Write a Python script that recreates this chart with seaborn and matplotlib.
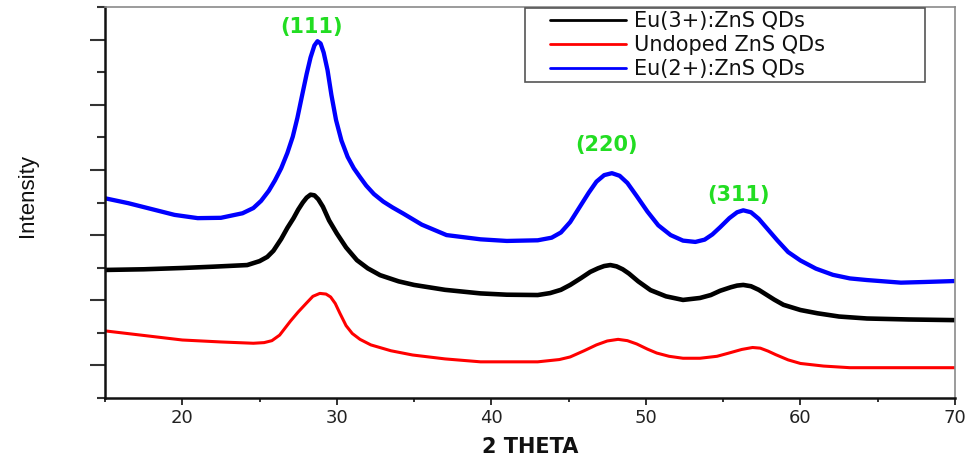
import numpy as np
import pandas as pd
import matplotlib
matplotlib.use("Agg")
import matplotlib.pyplot as plt
from matplotlib.lines import Line2D
from matplotlib.legend_handler import HandlerLine2D
from matplotlib.ticker import FixedLocator
import seaborn as sns

# ---------------- data ----------------
series_names = ["Eu(3+):ZnS QDs", "Undoped ZnS QDs", "Eu(2+):ZnS QDs"]
series_colors = ["#000000", "#ff0000", "#0000ff"]

eu3_x = [15.0, 17.5, 20.0, 22.0, 24.2, 25.0, 25.5, 25.9, 26.4, 26.8, 27.2, 27.5, 27.8,
         28.05, 28.3, 28.55, 28.8, 29.1, 29.5, 30.0, 30.6, 31.3, 32.0, 32.8, 34.0, 35.0,
         37.0, 39.3, 41.0, 43.0, 43.8, 44.5, 45.1, 45.8, 46.4, 46.9, 47.3, 47.7, 48.1,
         48.5, 48.9, 49.5, 50.3, 51.3, 52.4, 53.5, 54.2, 54.8, 55.5, 55.9, 56.3, 56.8,
         57.3, 57.8, 58.3, 58.9, 60.0, 61.1, 62.5, 64.3, 67.0, 70.0]
eu3_y = [3.93, 3.95, 3.99, 4.03, 4.08, 4.20, 4.33, 4.52, 4.88, 5.22, 5.52, 5.78, 6.00,
         6.15, 6.24, 6.22, 6.10, 5.87, 5.45, 5.05, 4.62, 4.23, 3.98, 3.77, 3.58, 3.47,
         3.32, 3.21, 3.17, 3.16, 3.22, 3.32, 3.47, 3.68, 3.87, 3.98, 4.05, 4.08, 4.04,
         3.95, 3.82, 3.58, 3.31, 3.12, 3.01, 3.07, 3.16, 3.29, 3.40, 3.45, 3.47, 3.43,
         3.32, 3.17, 3.02, 2.86, 2.70, 2.60, 2.50, 2.44, 2.41, 2.39]

undoped_x = [15.0, 17.5, 20.0, 22.5, 24.6, 25.3, 25.8, 26.3, 27.0, 27.5, 28.05, 28.45,
             28.9, 29.3, 29.6, 29.9, 30.2, 30.6, 31.0, 31.5, 32.2, 33.5, 34.9, 37.0, 39.3,
             43.0, 44.4, 45.1, 46.0, 46.8, 47.5, 48.2, 48.8, 49.4, 50.1, 50.7, 51.5, 52.4,
             53.5, 54.6, 55.3, 56.2, 56.9, 57.4, 57.9, 58.4, 59.2, 60.0, 61.5, 63.2, 66.0,
             70.0]
undoped_y = [2.06, 1.92, 1.78, 1.72, 1.68, 1.70, 1.76, 1.93, 2.36, 2.64, 2.92, 3.12,
             3.21, 3.19, 3.10, 2.90, 2.60, 2.22, 1.98, 1.80, 1.63, 1.45, 1.32, 1.20, 1.11,
             1.11, 1.18, 1.26, 1.45, 1.63, 1.75, 1.80, 1.76, 1.66, 1.50, 1.38, 1.28, 1.22,
             1.22, 1.28, 1.37, 1.49, 1.55, 1.53, 1.44, 1.33, 1.17, 1.06, 0.98, 0.93, 0.93,
             0.93]

eu2_x = [15.0, 16.5, 18.0, 19.5, 21.0, 22.5, 23.9, 24.6, 25.1, 25.6, 26.0, 26.4, 26.8,
         27.15, 27.45, 27.75, 28.05, 28.3, 28.55, 28.75, 28.95, 29.15, 29.4, 29.65, 29.95,
         30.3, 30.7, 31.1, 31.5, 31.9, 32.4, 33.0, 33.6, 34.3, 35.5, 37.1, 39.3, 41.0,
         43.0, 43.9, 44.5, 45.1, 45.7, 46.3, 46.8, 47.3, 47.8, 48.3, 48.8, 49.4, 50.1,
         50.8, 51.6, 52.4, 53.2, 53.8, 54.3, 54.8, 55.4, 55.9, 56.3, 56.8, 57.3, 57.9,
         58.5, 59.2, 60.0, 61.0, 62.1, 63.2, 64.3, 66.5, 68.0, 70.0]
eu2_y = [6.13, 5.98, 5.80, 5.62, 5.52, 5.53, 5.67, 5.83, 6.05, 6.36, 6.68, 7.05, 7.52,
         8.02, 8.60, 9.28, 9.95, 10.45, 10.82, 10.95, 10.88, 10.60, 10.06, 9.30, 8.53,
         7.90, 7.40, 7.05, 6.78, 6.52, 6.26, 6.03, 5.85, 5.66, 5.32, 5.00, 4.87, 4.82,
         4.84, 4.92, 5.08, 5.40, 5.85, 6.30, 6.64, 6.84, 6.90, 6.82, 6.60, 6.20, 5.72,
         5.30, 5.00, 4.83, 4.79, 4.86, 5.02, 5.24, 5.52, 5.70, 5.76, 5.70, 5.50, 5.17,
         4.84, 4.48, 4.22, 3.97, 3.78, 3.67, 3.62, 3.54, 3.56, 3.59]

peak_labels = ["(111)", "(220)", "(311)"]
peak_label_x = [28.33, 47.46, 55.96]
peak_label_y = [11.40, 7.75, 6.24]

x_major_ticks = [20, 30, 40, 50, 60, 70]
x_minor_ticks = [15, 25, 35, 45, 55, 65]
y_major_ticks = [1, 3, 5, 7, 9, 11]
y_minor_ticks = [0, 2, 4, 6, 8, 10, 12]

# ---------------- figure ----------------
sns.set_style("ticks")
plt.rcParams["font.family"] = ["DejaVu Sans"]

frames = [
    pd.DataFrame({"two_theta": eu3_x, "intensity": eu3_y, "sample": series_names[0]}),
    pd.DataFrame({"two_theta": undoped_x, "intensity": undoped_y, "sample": series_names[1]}),
    pd.DataFrame({"two_theta": eu2_x, "intensity": eu2_y, "sample": series_names[2]}),
]
widths = [3.3, 2.2, 3.1]

fig = plt.figure(figsize=(9.68, 4.59), dpi=100)
ax = fig.add_axes([105 / 968, 61 / 459, 850 / 968, 391 / 459])

for df, col, lw, name in zip(frames, series_colors, widths, series_names):
    sns.lineplot(data=df, x="two_theta", y="intensity", color=col, linewidth=lw,
                 label=name, ax=ax, sort=False, estimator=None)
for line in ax.get_lines():
    line.set_solid_joinstyle("round")

ax.set_xlim(15, 70)
ax.set_ylim(0, 12)

ax.xaxis.set_major_locator(FixedLocator(x_major_ticks))
ax.xaxis.set_minor_locator(FixedLocator(x_minor_ticks))
ax.yaxis.set_major_locator(FixedLocator(y_major_ticks))
ax.yaxis.set_minor_locator(FixedLocator(y_minor_ticks))
ax.set_yticklabels([])
ax.tick_params(axis="x", which="major", direction="out", length=5, width=1.3,
               labelsize=13, pad=3, colors="#222222", labelcolor="#222222")
ax.tick_params(axis="x", which="minor", direction="out", length=3, width=1.3, colors="#222222")
ax.tick_params(axis="y", which="major", direction="out", length=11, width=1.5, colors="#333333")
ax.tick_params(axis="y", which="minor", direction="out", length=6, width=1.5, colors="#333333")

for side in ["left", "bottom"]:
    ax.spines[side].set_color("#111111")
    ax.spines[side].set_linewidth(1.8)
for side in ["top", "right"]:
    ax.spines[side].set_visible(True)
    ax.spines[side].set_color("#8a8a8a")
    ax.spines[side].set_linewidth(1.2)

ax.set_xlabel("2 THETA", fontsize=15, fontweight="bold", color="#111111")
ax.xaxis.set_label_coords(0.5, -0.10)
ax.xaxis.label.set_verticalalignment("top")
ax.set_ylabel("Intensity", fontsize=16, color="#111111",
              family=["Liberation Sans Narrow", "Liberation Sans", "DejaVu Sans"])
ax.yaxis.set_label_coords(-0.079, 0.517)

for lab, lx, ly in zip(peak_labels, peak_label_x, peak_label_y):
    ax.text(lx, ly, lab, color="#22dd22", fontsize=15, fontweight="bold",
            ha="center", va="center")

handles, labels = ax.get_legend_handles_labels()
leg = ax.legend(handles, labels, loc="upper left",
                bbox_to_anchor=(0.494, 0.0, 0.471, 0.998), mode="expand",
                borderaxespad=0, fontsize=15, frameon=True, fancybox=False,
                framealpha=1, edgecolor="#555555", borderpad=0.15,
                labelspacing=0.2, handlelength=4.7, handletextpad=0.4,
                handler_map={Line2D: HandlerLine2D(xpad=1.05)})
leg.get_frame().set_linewidth(1.2)
for line in leg.get_lines():
    line.set_linewidth(2.0)
for t in leg.get_texts():
    t.set_color("#111111")

fig.savefig("out.png", dpi=100)
